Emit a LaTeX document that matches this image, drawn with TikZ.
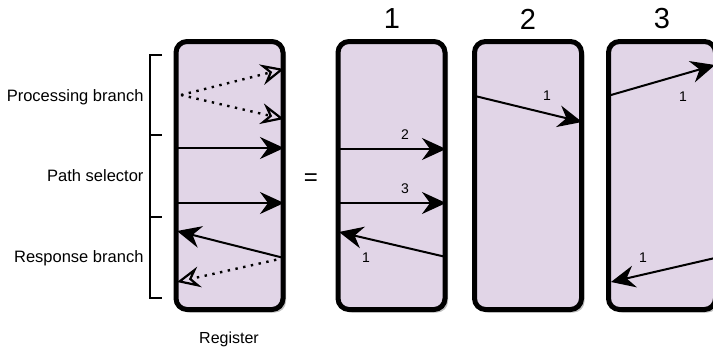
\documentclass[tikz,border=0pt]{standalone}
\usepackage{fontspec}
\setmainfont{Liberation Sans}
\usetikzlibrary{arrows.meta,shadows}
\definecolor{boxfill}{HTML}{E1D5E7}
\tikzset{
  regbox/.style={draw=black, line width=5pt, fill=boxfill, rounded corners=11pt,
    minimum width=107pt, minimum height=268pt, inner sep=0pt,
    drop shadow={shadow xshift=3pt, shadow yshift=-3pt, fill=black!35, opacity=0.7}},
  arr/.style={line width=2pt, -{Stealth[length=24pt, width=22pt, inset=8pt]}},
  darr/.style={line width=2.4pt, dash pattern=on 2.4pt off 5.5pt,
    -{Stealth[open, length=23pt, width=21pt, inset=8pt, line width=2.2pt]}},
  lbl/.style={font=\fontsize{16.5pt}{19pt}\selectfont, anchor=east},
  num/.style={font=\fontsize{14pt}{16pt}\selectfont},
  big/.style={font=\fontsize{29pt}{32pt}\selectfont},
  brk/.style={line width=1.2pt}
}
\begin{document}
\begin{tikzpicture}[x=1pt,y=-1pt]
\useasboundingbox (0,0) rectangle (713,351);
\clip (0,0) rectangle (713,351);
% boxes
\node[regbox] (reg) at (229.5,175.5) {};
\node[regbox] (b1) at (391.5,175.5) {};
\node[regbox] (b2) at (528,175.5) {};
\node[regbox] (b3) at (662,175.5) {};
% titles
\node[big] (t1) at (392,19) {1};
\node[big] (t2) at (528,19) {2};
\node[big] (t3) at (662,19) {3};
\node[font=\fontsize{24pt}{26pt}\selectfont] (eq) at (311,180) {=};
\node[font=\fontsize{16pt}{18pt}\selectfont] (regl) at (229,339) {Register};
% bracket
\coordinate (k0) at (150,55);
\coordinate (k1) at (150,135);
\coordinate (k2) at (150,217);
\coordinate (k3) at (150,298);
\draw[brk] ([xshift=12pt]k0) -- (k0) -- (k3) -- ([xshift=12pt]k3);
\draw[brk] (k1) -- ([xshift=12pt]k1);
\draw[brk] (k2) -- ([xshift=12pt]k2);
\node[lbl] (lp) at (147,97) {Processing branch};
\node[lbl] (ls) at (147,176) {Path selector};
\node[lbl] (lr) at (147,258) {Response branch};
% register arrows
\coordinate (rs) at (181,95);
\coordinate (re1) at (284,69);
\coordinate (re2) at (284,119);
\draw[darr] (rs) -- (re1);
\draw[darr] (rs) -- (re2);
\coordinate (ra1) at (177,148);
\coordinate (rb1) at (284,148);
\coordinate (ra2) at (177,203);
\coordinate (rb2) at (284,203);
\draw[arr] (ra1) -- (rb1);
\draw[arr] (ra2) -- (rb2);
\coordinate (rr) at (284,258);
\coordinate (rr1) at (177,231);
\coordinate (rr2) at (177,282);
\draw[arr] (rr) -- (rr1);
\draw[darr] (rr) -- (rr2);
% box 1 arrows
\coordinate (p1a) at (338,149);
\coordinate (p1b) at (446,149);
\coordinate (p2a) at (338,203);
\coordinate (p2b) at (446,203);
\coordinate (p3a) at (446,257);
\coordinate (p3b) at (339,232);
\draw[arr] (p1a) -- (p1b);
\draw[arr] (p2a) -- (p2b);
\draw[arr] (p3a) -- (p3b);
\node[num] (n12) at (405,135) {2};
\node[num] (n13) at (405,189) {3};
\node[num] (n11) at (366,258) {1};
% box 2 arrow
\coordinate (q1a) at (475,96);
\coordinate (q1b) at (582,122);
\draw[arr] (q1a) -- (q1b);
\node[num] (n21) at (547,96) {1};
% box 3 arrows
\coordinate (s1a) at (611,95);
\coordinate (s1b) at (715,65);
\coordinate (s2a) at (715,258);
\coordinate (s2b) at (611,282);
\draw[arr] (s1a) -- (s1b);
\draw[arr] (s2a) -- (s2b);
\node[num] (n31) at (683,97) {1};
\node[num] (n32) at (643,258) {1};
\end{tikzpicture}
\end{document}
